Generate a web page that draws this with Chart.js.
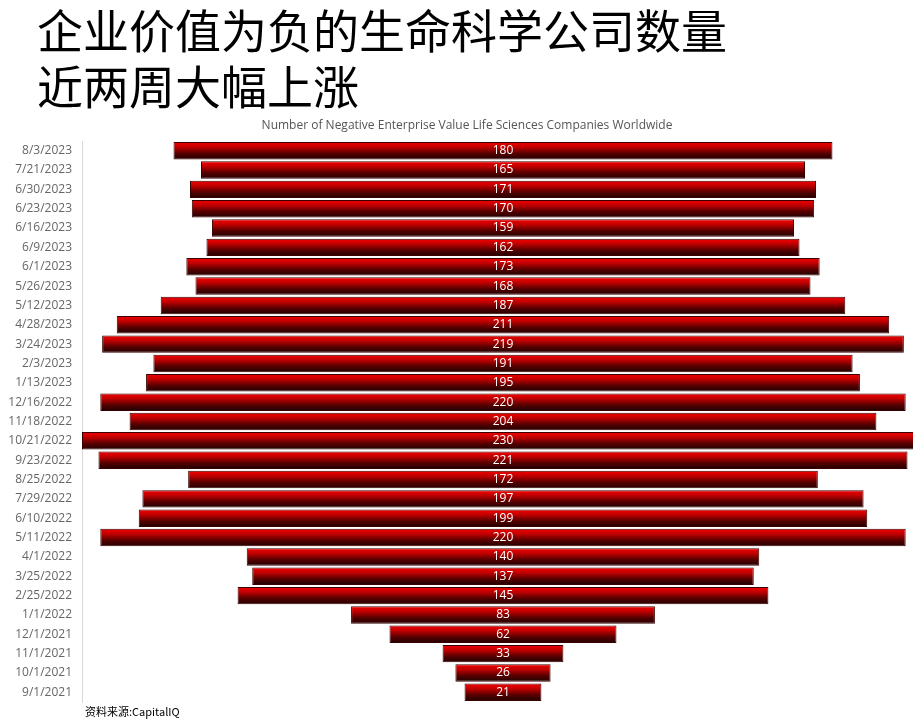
<!DOCTYPE html>
<html>
<head>
<meta charset="utf-8">
<script src="https://cdn.jsdelivr.net/npm/chart.js@4.4.0/dist/chart.umd.min.js"></script>
<style>
  html, body { margin: 0; padding: 0; background: #fff; }
  #wrap { position: relative; width: 913px; height: 720px; overflow: hidden; }
  #headline {
    position: absolute; left: 37px; top: 0px;
    font-family: "Noto Sans CJK SC", sans-serif; font-size: 46px; line-height: 56px;
    color: #000; z-index: 2;
  }
  #chart { position: absolute; left: 0; top: 0; }
</style>
</head>
<body>
<div id="wrap">
  <div id="headline">企业价值为负的生命科学公司数量<br>近两周大幅上涨</div>
  <canvas id="chart" width="913" height="720"></canvas>
</div>
<script>
const dates = ['8/3/2023', '7/21/2023', '6/30/2023', '6/23/2023', '6/16/2023', '6/9/2023', '6/1/2023',
  '5/26/2023', '5/12/2023', '4/28/2023', '3/24/2023', '2/3/2023', '1/13/2023', '12/16/2022',
  '11/18/2022', '10/21/2022', '9/23/2022', '8/25/2022', '7/29/2022', '6/10/2022', '5/11/2022',
  '4/1/2022', '3/25/2022', '2/25/2022', '1/1/2022', '12/1/2021', '11/1/2021', '10/1/2021', '9/1/2021'];
const companies = [180, 165, 171, 170, 159, 162, 173, 168, 187, 211, 219, 191, 195, 220,
  204, 230, 221, 172, 197, 199, 220, 140, 137, 145, 83, 62, 33, 26, 21];
const subtitle = 'Number of Negative Enterprise Value Life Sciences Companies Worldwide';
const sourceNote = '资料来源:CapitalIQ';

function barGradient(ctx, bar) {
  if (!bar || !Number.isFinite(bar.y) || !Number.isFinite(bar.height)) return '#b00000';
  const top = bar.y - bar.height / 2;
  const bottom = bar.y + bar.height / 2;
  const g = ctx.createLinearGradient(0, top, 0, bottom);
  g.addColorStop(0, '#f40000');
  g.addColorStop(0.3, '#c00000');
  g.addColorStop(0.65, '#580000');
  g.addColorStop(1, '#200000');
  return g;
}

const textPlugin = {
  id: 'texts',
  afterDatasetsDraw(chart) {
    const { ctx } = chart;
    const meta = chart.getDatasetMeta(0);
    ctx.save();
    ctx.font = '12px "Open Sans", "Noto Sans", sans-serif';
    ctx.fillStyle = '#ffffff';
    ctx.textAlign = 'center';
    ctx.textBaseline = 'middle';
    const cx = chart.scales.x.getPixelForValue(0);
    meta.data.forEach((bar, i) => {
      ctx.fillText(String(companies[i]), cx, bar.y);
    });

    ctx.fillStyle = '#555';
    ctx.font = '12px "Open Sans", "Noto Sans", sans-serif';
    ctx.fillText(subtitle, 467, 126);

    ctx.fillStyle = '#000';
    ctx.textAlign = 'left';
    ctx.font = '11px "Noto Sans CJK SC", sans-serif';
    ctx.fillText(sourceNote, 85, 712);
    ctx.restore();
  },
};

const chart = new Chart(document.getElementById('chart'), {
  type: 'bar',
  data: {
    labels: dates,
    datasets: [{
      data: companies.map((v) => [-v / 2, v / 2]),
      backgroundColor: function(context) {
        const bar = context.chart.getDatasetMeta(0).data[context.dataIndex];
        return barGradient(context.chart.ctx, bar);
      },
      borderColor: '#3a0000',
      borderWidth: 1,
      borderSkipped: false,
      barPercentage: 0.93,
      categoryPercentage: 0.97,
    }],
  },
  options: {
    indexAxis: 'y',
    responsive: false,
    animation: false,
    layout: { padding: { top: 141, bottom: 18, left: 0, right: 0 } },
    plugins: {
      legend: { display: false },
      tooltip: { enabled: false },
    },
    scales: {
      x: {
        display: false,
        min: -115,
        max: 112,
      },
      y: {
        afterFit(scale) { scale.width = 82; },
        grid: { display: false },
        border: { display: true, color: '#d9d9d9', width: 1 },
        ticks: {
          color: '#666',
          font: { size: 12, family: '"Open Sans", "Noto Sans", sans-serif' },
          padding: 2,
          autoSkip: false,
        },
      },
    },
  },
  plugins: [textPlugin],
});
// redraw once bar geometry exists so gradients follow each bar
chart.update('none');
</script>
</body>
</html>
